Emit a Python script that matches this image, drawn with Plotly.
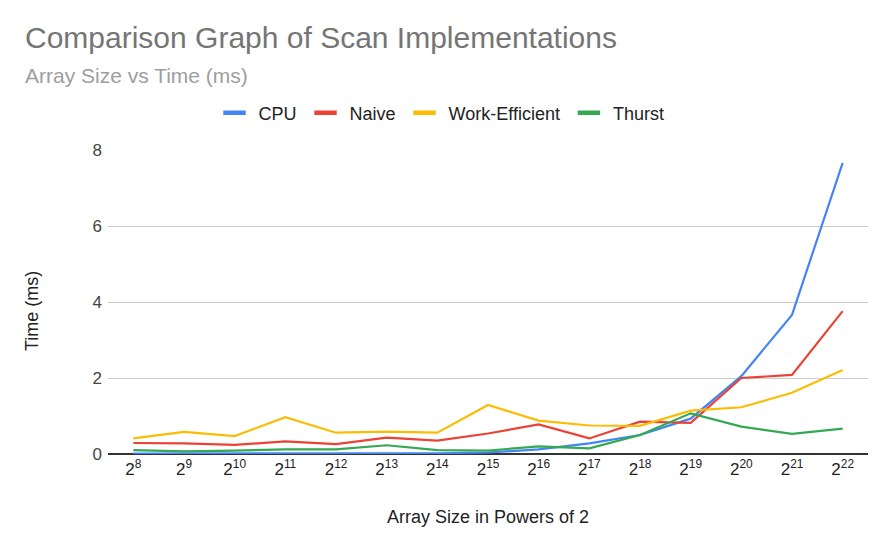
import plotly.graph_objects as go

exponents = [8, 9, 10, 11, 12, 13, 14, 15, 16, 17, 18, 19, 20, 21, 22]
tick_labels = [f"2<sup>{e}</sup>" for e in exponents]

cpu = [0.01, 0.01, 0.01, 0.01, 0.01, 0.02, 0.02, 0.04, 0.12, 0.28, 0.50, 0.93, 2.05, 3.66, 7.66]
naive = [0.29, 0.28, 0.24, 0.33, 0.26, 0.43, 0.35, 0.54, 0.78, 0.41, 0.85, 0.82, 2.00, 2.08, 3.76]
work_efficient = [0.41, 0.58, 0.47, 0.97, 0.56, 0.59, 0.56, 1.29, 0.88, 0.75, 0.74, 1.14, 1.23, 1.61, 2.21]
thrust = [0.10, 0.07, 0.09, 0.12, 0.12, 0.23, 0.10, 0.09, 0.20, 0.15, 0.50, 1.07, 0.72, 0.53, 0.67]

series = [
    ("CPU", cpu, "#4285F4"),
    ("Naive", naive, "#EA4335"),
    ("Work-Efficient", work_efficient, "#FBBC04"),
    ("Thurst", thrust, "#34A853"),
]

FONT = "Liberation Sans, Arial, sans-serif"

fig = go.Figure()
x_idx = list(range(len(exponents)))
for name, vals, color in series:
    fig.add_trace(go.Scatter(x=x_idx, y=vals, mode="lines", name=name,
                             line=dict(color=color, width=2.2), showlegend=False,
                             hoverinfo="x+y+name"))
for name, vals, color in series:
    fig.add_trace(go.Scatter(x=[None], y=[None], mode="markers", name=name,
                             marker=dict(symbol="line-ew", size=16, color=color,
                                         line=dict(color=color, width=4.5)),
                             showlegend=True))

# figure is drawn at an 8px page offset
W, H = 880, 542
L, R, T, B = 100, 20, 142, 96
pw = W - L - R
ph = H - T - B

def px_x(v):
    return (v - 8 - L) / pw

def px_y(v):
    return 1 + (T - (v - 8)) / ph

fig.update_layout(
    width=W, height=H,
    margin=dict(l=L, r=R, t=T, b=B),
    paper_bgcolor="white", plot_bgcolor="white",
    font=dict(family=FONT, color="#222222", size=17),
    legend=dict(orientation="h", x=px_x(440), xanchor="center",
                y=px_y(113), yanchor="middle",
                font=dict(size=18, color="#222222"), itemwidth=38,
                bgcolor="rgba(0,0,0,0)"),
    xaxis=dict(
        tickmode="array", tickvals=x_idx, ticktext=tick_labels,
        range=[-0.5, len(exponents) - 0.5], showgrid=False, zeroline=False,
        showline=False, tickfont=dict(size=17, color="#222222"),
        ticks="", ticklabelstandoff=3,
        title=dict(text="Array Size in Powers of 2", font=dict(size=18, color="#222222"),
                   standoff=32),
    ),
    yaxis=dict(
        range=[0, 8], tickvals=[0, 2, 4, 6, 8], showgrid=True, gridcolor="#cccccc",
        gridwidth=1, zeroline=True, zerolinecolor="#333333", zerolinewidth=1.5,
        showline=False, ticks="", ticklabelstandoff=5,
        tickfont=dict(size=17, color="#444444"),
    ),
    annotations=[
        dict(text="Comparison Graph of Scan Implementations", xref="paper", yref="paper",
             x=px_x(23), y=px_y(38), xanchor="left", yanchor="middle",
             showarrow=False, font=dict(size=30, color="#757575")),
        dict(text="Array Size vs Time (ms)", xref="paper", yref="paper",
             x=px_x(23), y=px_y(76), xanchor="left", yanchor="middle",
             showarrow=False, font=dict(size=21, color="#9e9e9e")),
        dict(text="Time (ms)", xref="paper", yref="paper", textangle=-90,
             x=px_x(32), y=px_y(311), xanchor="center", yanchor="middle",
             showarrow=False, font=dict(size=18, color="#222222")),
    ],
)

fig.write_html("out.html")
